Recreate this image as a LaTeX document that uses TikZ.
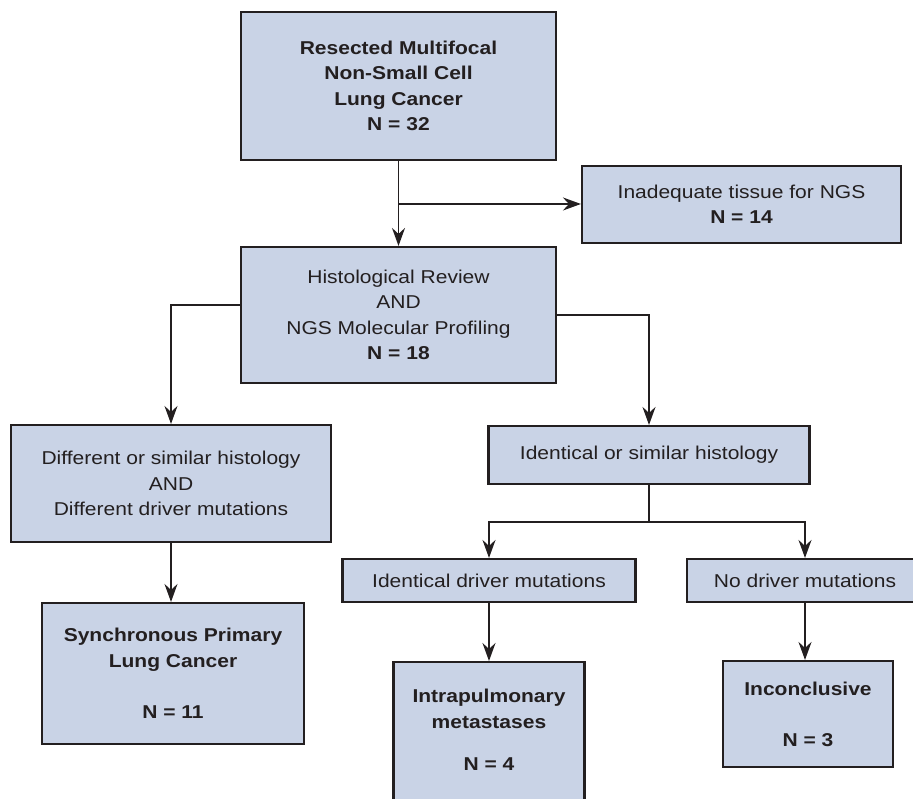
\documentclass[tikz,border=0pt]{standalone}
\usepackage{fontspec}
\setmainfont{Liberation Sans}[FakeStretch=1.13]
\usetikzlibrary{arrows.meta}
\definecolor{boxfill}{RGB}{201,211,230}
\definecolor{ink}{RGB}{35,31,32}
\begin{document}
\begin{tikzpicture}[x=1pt,y=-1pt,
  box/.style={draw=ink, line width=2.1pt, fill=boxfill, text=ink, align=center, inner sep=0pt,
    font=\fontsize{18.6}{25.5}\selectfont},
  boldbox/.style={box, font=\fontsize{18.6}{25.5}\selectfont\bfseries},
  conn/.style={draw=ink, line width=1.9pt, -{Stealth[length=18pt,width=13pt,inset=6pt]}},
  plain/.style={draw=ink, line width=1.9pt}]
\useasboundingbox (0,0) rectangle (913,799);

\node[boldbox, minimum width=315pt, minimum height=148pt] (top) at (398.5,86)
  {Resected Multifocal\\Non-Small Cell\\Lung Cancer\\N = 32};
\node[box, minimum width=319pt, minimum height=77pt] (inad) at (741.5,204.5)
  {Inadequate tissue for NGS\\\textbf{N = 14}};
\node[box, minimum width=315pt, minimum height=136pt] (hist) at (398.5,315)
  {Histological Review\\AND\\NGS Molecular Profiling\\\textbf{N = 18}};
\node[box, minimum width=320pt, minimum height=117pt] (diff) at (171,483.5)
  {Different or similar histology\\AND\\Different driver mutations};
\node[box, minimum width=321pt, minimum height=58pt] (ident) at (649,455)
  {Identical or similar histology};
\node[box, minimum width=293pt, minimum height=43pt] (idd) at (489,580.5)
  {Identical driver mutations};
\node[box, minimum width=236pt, minimum height=43pt] (nod) at (805,580.5)
  {No driver mutations};
\node[boldbox, minimum width=262pt, minimum height=141pt] (sync) at (173,673.5)
  {Synchronous Primary\\Lung Cancer\\[26pt]N = 11};
\node[boldbox, anchor=north, minimum width=191pt] (intra) at (489,661)
  {\parbox[c][154pt][t]{185pt}{\centering\vspace*{27pt}Intrapulmonary\\metastases\\[16.5pt]N = 4}};
\node[boldbox, minimum width=170pt, minimum height=106pt] (inc) at (808,714)
  {Inconclusive\\[25.5pt]N = 3};

\coordinate (split) at (398.5,204);
\coordinate (br) at (649,522);

\draw[conn] (top.south) -- (hist.north);
\draw[conn] (split) -- (split -| inad.west);
\draw[conn] ([yshift=10pt]hist.west) -| (diff.north);
\draw[conn] (hist.east) -| (ident.north);
\draw[plain] (ident.south) -- (br);
\draw[conn] (br) -| (idd.north);
\draw[conn] (br) -| (nod.north);
\draw[conn] (diff.south) -- (diff.south |- sync.north);
\draw[conn] (idd.south) -- (intra.north);
\draw[conn] (nod.south) -- (nod.south |- inc.north);
\end{tikzpicture}
\end{document}
